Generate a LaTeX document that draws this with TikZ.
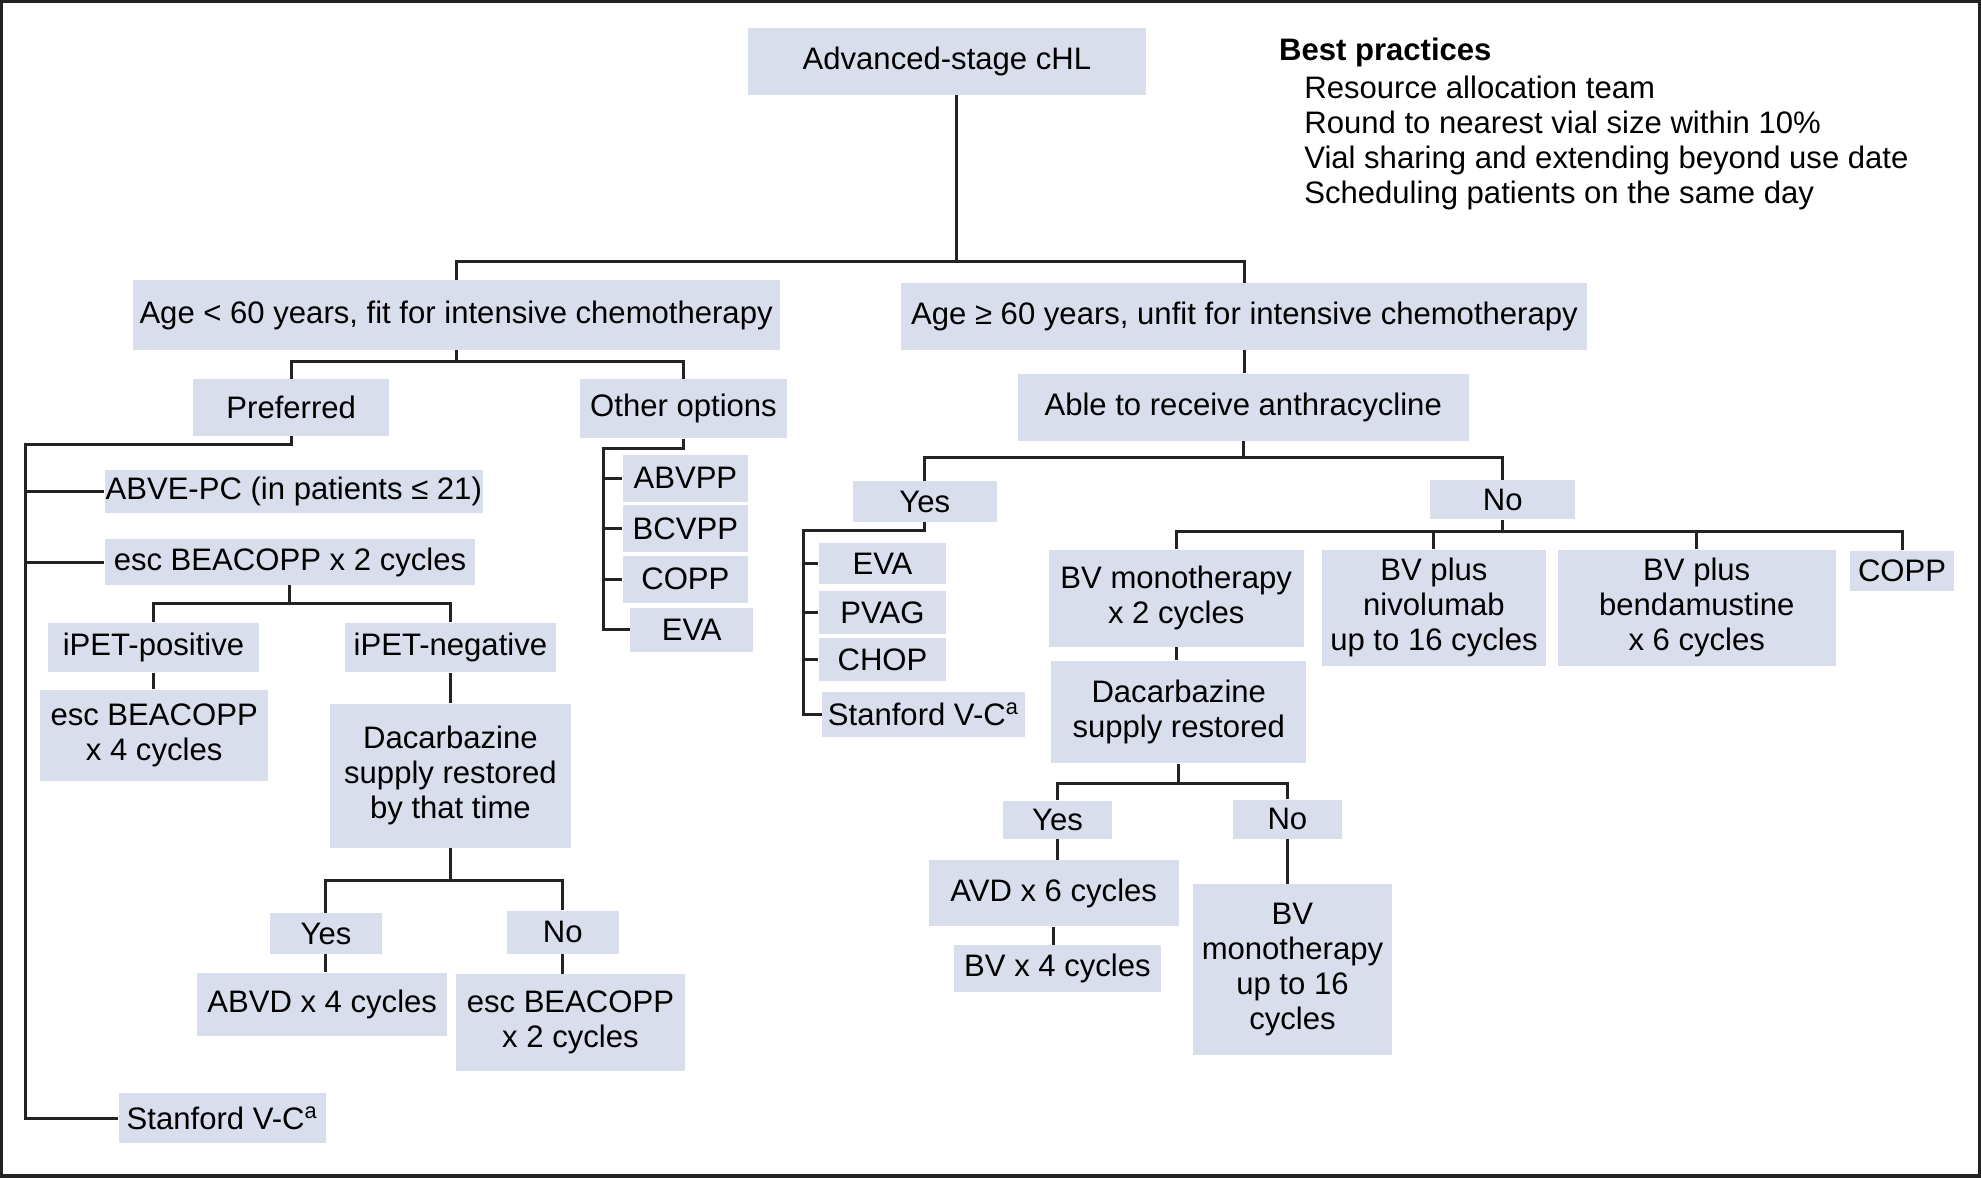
\documentclass[tikz,border=0pt]{standalone}
\usepackage{fontspec}
\setmainfont{Liberation Sans}
\usepackage{tikz}
\definecolor{boxblue}{RGB}{217,222,237}
\definecolor{linegray}{RGB}{35,35,35}

\begin{document}
\begin{tikzpicture}[x=0.5pt,y=-0.5pt]
\tikzstyle{every node}+=[inner sep=0pt, font=\fontsize{12.3}{13.9}\selectfont]
\tikzstyle{box}=[fill=boxblue, align=center]
\tikzstyle{link}=[linegray, line width=1.2pt]
\useasboundingbox (0,0) rectangle (1568,932);
\draw [linegray, line width=1.2pt] (1.2,1.2) rectangle (1566.8,930.8);

% root and first split
\node [box, minimum width=157.5pt, minimum height=26.5pt] (top) at (749.5,48.5) {Advanced-stage cHL};
\node [box, minimum width=256pt, minimum height=27.5pt] (young) at (361,249.5) {Age < 60 years, fit for intensive chemotherapy};
\node [box, minimum width=271.5pt, minimum height=26.5pt] (old) at (985,250.5) {Age ≥ 60 years, unfit for intensive chemotherapy};
\node [anchor=north west, align=left] (best) at (1012,30) {\textbf{Best practices}\\[1pt]
  \hspace{10pt}Resource allocation team\\
  \hspace{10pt}Round to nearest vial size within 10\%\\
  \hspace{10pt}Vial sharing and extending beyond use date\\
  \hspace{10pt}Scheduling patients on the same day};

% fit patients
\node [box, minimum width=77.5pt, minimum height=22.5pt] (pref) at (230.5,322.5) {Preferred};
\node [box, minimum width=82pt, minimum height=23.5pt] (other) at (541,323.5) {Other options};
\node [box, minimum width=149.5pt, minimum height=17pt] (abve) at (232.5,389) {ABVE-PC (in patients ≤ 21)};
\node [box, minimum width=146.5pt, minimum height=18pt] (escA) at (229.5,445) {esc BEACOPP x 2 cycles};
\node [box, minimum width=83.5pt, minimum height=19.5pt] (ipos) at (121.5,512.5) {iPET-positive};
\node [box, minimum width=83.5pt, minimum height=19.5pt] (ineg) at (356.5,512.5) {iPET-negative};
\node [box, minimum width=90pt, minimum height=36pt] (escB) at (122,582) {esc BEACOPP\\x 4 cycles};
\node [box, minimum width=95.5pt, minimum height=57pt] (dacA) at (356.5,614) {Dacarbazine\\supply restored\\by that time};
\node [box, minimum width=44pt, minimum height=16pt] (yesA) at (258,739) {Yes};
\node [box, minimum width=44.5pt, minimum height=17pt] (noA) at (445.5,738) {No};
\node [box, minimum width=99pt, minimum height=25pt] (abvd) at (255,795) {ABVD x 4 cycles};
\node [box, minimum width=90.5pt, minimum height=38.5pt] (escC) at (451.5,809.5) {esc BEACOPP\\x 2 cycles};
\node [box, minimum width=82pt, minimum height=20pt] (stanA) at (176,885) {Stanford V-C\textsuperscript{a}};
\node [box, minimum width=49.5pt, minimum height=18.5pt] (abvpp) at (542.5,378.5) {ABVPP};
\node [box, minimum width=49.5pt, minimum height=18.5pt] (bcvpp) at (542.5,418.5) {BCVPP};
\node [box, minimum width=49.5pt, minimum height=18.5pt] (coppA) at (542.5,458.5) {COPP};
\node [box, minimum width=48.5pt, minimum height=17.5pt] (evaA) at (547.5,498.5) {EVA};

% unfit patients
\node [box, minimum width=178.5pt, minimum height=26.5pt] (able) at (984,322.5) {Able to receive anthracycline};
\node [box, minimum width=57pt, minimum height=16pt] (yesB) at (732,397) {Yes};
\node [box, minimum width=57.5pt, minimum height=15.5pt] (noB) at (1189.5,395.5) {No};
\node [box, minimum width=50.5pt, minimum height=16pt] (evaB) at (698.5,446) {EVA};
\node [box, minimum width=50.5pt, minimum height=17pt] (pvag) at (698.5,485) {PVAG};
\node [box, minimum width=50.5pt, minimum height=17pt] (chop) at (698.5,522) {CHOP};
\node [box, minimum width=80pt, minimum height=17.5pt] (stanB) at (731,565.5) {Stanford V-C\textsuperscript{a}};
\node [box, minimum width=101pt, minimum height=38.5pt] (bvmono) at (931,473.5) {BV monotherapy\\x 2 cycles};
\node [box, minimum width=89pt, minimum height=46pt] (bvnivo) at (1135,481) {BV plus\\nivolumab\\up to 16 cycles};
\node [box, minimum width=110pt, minimum height=46pt] (bvbenda) at (1343,481) {BV plus\\bendamustine\\x 6 cycles};
\node [box, minimum width=41.5pt, minimum height=16pt] (coppB) at (1505.5,452) {COPP};
\node [box, minimum width=101pt, minimum height=40.5pt] (dacB) at (933,563.5) {Dacarbazine\\supply restored};
\node [box, minimum width=43pt, minimum height=15pt] (yesC) at (837,649) {Yes};
\node [box, minimum width=43pt, minimum height=15.5pt] (noC) at (1019,648.5) {No};
\node [box, minimum width=99pt, minimum height=26pt] (avd) at (834,707) {AVD x 6 cycles};
\node [box, minimum width=82pt, minimum height=18.5pt] (bv4) at (837,766.5) {BV x 4 cycles};
\node [box, minimum width=79pt, minimum height=67.5pt] (bvmono16) at (1023,767.5) {BV\\monotherapy\\up to 16\\cycles};

% bars and rails
\coordinate (b1) at (0,207);
\coordinate (b2) at (0,286);
\coordinate (b3) at (0,478);
\coordinate (b4) at (0,697);
\coordinate (b5) at (0,362);
\coordinate (b6) at (0,421);
\coordinate (b7) at (0,620);
\coordinate (r1) at (20,352);
\coordinate (r2) at (478,355);
\coordinate (r3) at (636,420);
\coordinate (stem) at ([xshift=3.75pt]top.south);

\draw [link] (stem) -- (stem |- b1);
\draw [link] (young.north) |- (b1 -| old.north) -- (old.north);

\draw [link] (young.south) -- (young.south |- b2);
\draw [link] (pref.north) |- (b2 -| other.north) -- (other.north);
\draw [link] (pref.south) |- (r1) |- (stanA.west);
\draw [link] (r1 |- abve.west) -- (abve.west);
\draw [link] (r1 |- escA.west) -- (escA.west);
\draw [link] (escA.south) -- (escA.south |- b3);
\draw [link] (ipos.north) |- (b3 -| ineg.north) -- (ineg.north);
\draw [link] (ipos.south) -- (ipos.south |- escB.north);
\draw [link] (ineg.south) -- (ineg.south |- dacA.north);
\draw [link] (dacA.south) -- (dacA.south |- b4);
\draw [link] (yesA.north) |- (b4 -| noA.north) -- (noA.north);
\draw [link] (yesA.south) -- (yesA.south |- abvd.north);
\draw [link] (noA.south) -- (noA.south |- escC.north);
\draw [link] (other.south) |- (r2) |- (evaA.west);
\draw [link] (r2 |- abvpp.west) -- (abvpp.west);
\draw [link] (r2 |- bcvpp.west) -- (bcvpp.west);
\draw [link] (r2 |- coppA.west) -- (coppA.west);

\draw [link] (old.south) -- (old.south |- able.north);
\draw [link] (able.south) -- (able.south |- b5);
\draw [link] (yesB.north) |- (b5 -| noB.north) -- (noB.north);
\draw [link] (yesB.south) |- (r3) |- (stanB.west);
\draw [link] (r3 |- evaB.west) -- (evaB.west);
\draw [link] (r3 |- pvag.west) -- (pvag.west);
\draw [link] (r3 |- chop.west) -- (chop.west);
\draw [link] (noB.south) -- (noB.south |- b6);
\draw [link] (bvmono.north) |- (b6 -| coppB.north) -- (coppB.north);
\draw [link] (b6 -| bvnivo.north) -- (bvnivo.north);
\draw [link] (b6 -| bvbenda.north) -- (bvbenda.north);
\draw [link] (bvmono.south) -- (bvmono.south |- dacB.north);
\draw [link] (dacB.south) -- (dacB.south |- b7);
\draw [link] (yesC.north) |- (b7 -| noC.north) -- (noC.north);
\draw [link] (yesC.south) -- (yesC.south |- avd.north);
\draw [link] (avd.south) -- (avd.south |- bv4.north);
\draw [link] (noC.south) -- (noC.south |- bvmono16.north);
\end{tikzpicture}
\end{document}
